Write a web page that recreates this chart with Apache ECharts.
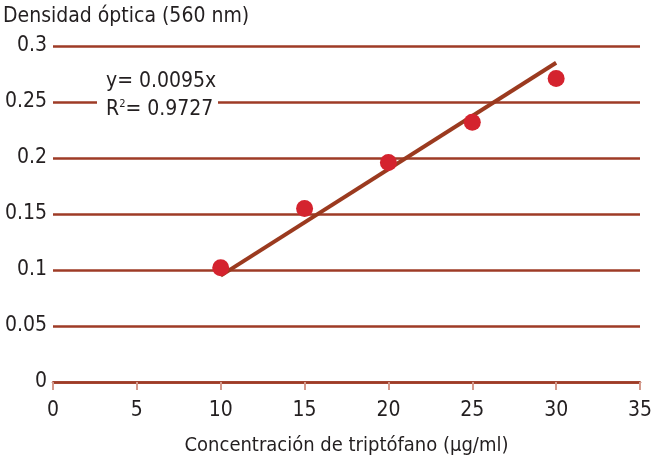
<!DOCTYPE html>
<html>
<head>
<meta charset="utf-8">
<script src="https://cdn.jsdelivr.net/npm/echarts@6/dist/echarts.min.js"></script>
<style>
  html, body { margin: 0; padding: 0; background: #fff; }
  #chart { width: 652px; height: 458px; }
</style>
</head>
<body>
<div id="chart"></div>
<script>
// datos
const concentracion = [10, 15, 20, 25, 30];
const densidad = [0.102, 0.155, 0.196, 0.232, 0.271];
// recta de tendencia y = 0.0095x
const tendenciaX = [10, 30];
const tendenciaY = [0.095, 0.285];

const FONT = '"DejaVu Sans Condensed", "Liberation Sans Narrow", sans-serif';
const GRID = '#9e3b26';
const TXT = '#231f20';

const chart = echarts.init(document.getElementById('chart'));

chart.setOption({
  backgroundColor: '#fff',
  animation: false,
  textStyle: { fontFamily: FONT },
  grid: { left: 53, right: 12, top: 46, bottom: 76, outerBoundsMode: 'none', containLabel: false },
  xAxis: {
    type: 'value',
    min: 0, max: 35, interval: 5,
    name: 'Concentración de triptófano (µg/ml)',
    nameLocation: 'middle',
    nameGap: 54,
    nameTextStyle: { fontFamily: FONT, fontSize: 20, color: TXT },
    axisLine: { show: true, lineStyle: { color: GRID, width: 2.5 } },
    axisTick: { show: true, length: 8, lineStyle: { color: '#d49a8c', width: 2 } },
    axisLabel: { fontFamily: FONT, fontSize: 21, color: TXT, margin: 18 },
    splitLine: { show: false }
  },
  yAxis: {
    type: 'value',
    min: 0, max: 0.3, interval: 0.05,
    axisLine: { show: false },
    axisTick: { show: false },
    axisLabel: { fontFamily: FONT, fontSize: 21, color: TXT, margin: 6,
      formatter: v => String(+v.toFixed(2)) },
    splitLine: { show: true, lineStyle: { color: GRID, width: 2.5 } }
  },
  graphic: [
    { type: 'text', left: 3, top: 6,
      style: { text: 'Densidad óptica (560 nm)', font: '21px ' + FONT, fill: TXT } },
    { type: 'rect', shape: { x: 97, y: 92, width: 121, height: 20 },
      style: { fill: '#fff' }, z: 10 },
    { type: 'text', left: 106, top: 71, z: 11,
      style: { text: 'y= 0.0095x', font: '21px ' + FONT, fill: TXT } },
    { type: 'text', left: 106, top: 99, z: 11,
      style: {
        text: '{a|R}{s|2}{a|= 0.9727}',
        rich: {
          a: { font: '21px ' + FONT, fill: TXT },
          s: { font: '11px ' + FONT, fill: TXT, verticalAlign: 'top', padding: [0, 0, 8, 0] }
        }
      } }
  ],
  series: [
    {
      type: 'line',
      data: tendenciaX.map((x, i) => [x, tendenciaY[i]]),
      symbol: 'none',
      lineStyle: { color: '#9b3a1f', width: 4 },
      z: 3
    },
    {
      type: 'scatter',
      data: concentracion.map((x, i) => [x, densidad[i]]),
      symbolSize: 17,
      itemStyle: { color: '#d4232e', opacity: 1 },
      z: 4
    }
  ]
});
</script>
</body>
</html>
